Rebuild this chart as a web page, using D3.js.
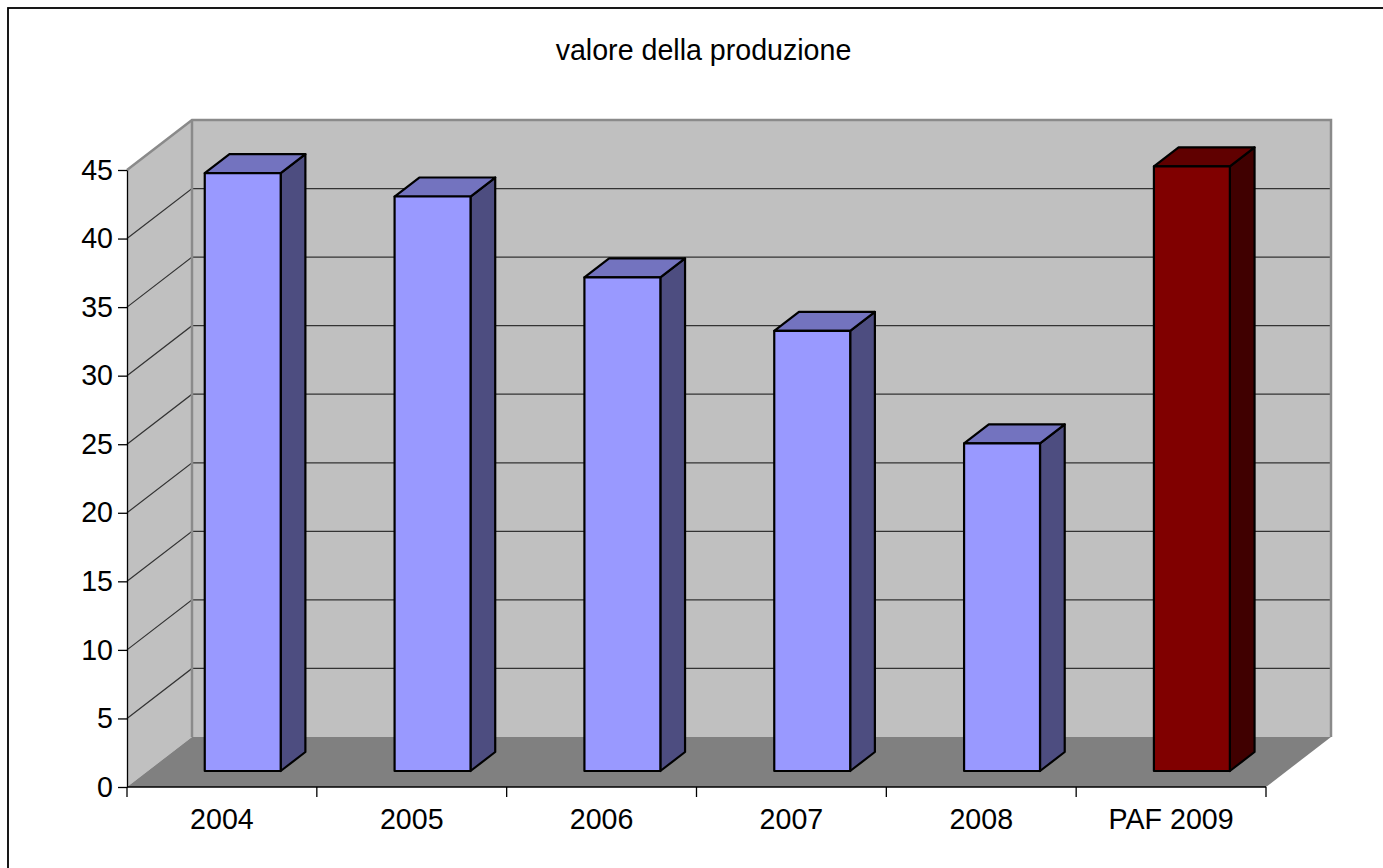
<!DOCTYPE html>
<html>
<head>
<meta charset="utf-8">
<script src="https://cdn.jsdelivr.net/npm/d3@7"></script>
<style>
html,body{margin:0;padding:0;background:#fff;}
svg{display:block;}
text{font-family:"Liberation Sans",Arial,sans-serif;fill:#000;}
</style>
</head>
<body>
<svg id="chart" width="1383" height="868"></svg>
<script>
const title = "valore della produzione";
const categories = ["2004", "2005", "2006", "2007", "2008", "PAF 2009"];
const values = [43.6, 41.9, 36.0, 32.1, 23.9, 44.1];
const highlight = [false, false, false, false, false, true];
const yTicks = [0, 5, 10, 15, 20, 25, 30, 35, 40, 45];

const svg = d3.select("#chart");
const W = 1383, H = 868;
const FS = 28.6;

// frame
svg.append("rect").attr("x", 8).attr("y", 8).attr("width", W).attr("height", H)
  .attr("fill", "#fff").attr("stroke", "#000").attr("stroke-width", 1.8);

const x0 = 127, x1 = 1266;
const x = d3.scaleBand().domain(categories).range([x0, x1]);
const y = d3.scaleLinear().domain([0, 45]).range([787, 170]);
const DX = 65, DY = -50;
const P = (px, v, z) => [px + DX * z, y(v) + DY * z];
const poly = pts => pts.map(p => p.join(",")).join(" ");

const yMin = 0, yMax = 45;

// left side wall
svg.append("polygon")
  .attr("points", poly([P(x0, yMin, 0), P(x0, yMax, 0), P(x0, yMax, 1), P(x0, yMin, 1)]))
  .attr("fill", "#c0c0c0");
// back wall
svg.append("polygon")
  .attr("points", poly([P(x0, yMin, 1), P(x0, yMax, 1), P(x1, yMax, 1), P(x1, yMin, 1)]))
  .attr("fill", "#c0c0c0");
// floor
svg.append("polygon")
  .attr("points", poly([P(x0, yMin, 0), P(x0, yMin, 1), P(x1, yMin, 1), P(x1, yMin, 0)]))
  .attr("fill", "#808080");

// gridlines
const gridVals = yTicks.filter(v => v > 0 && v < 45);
svg.append("g").selectAll("polyline").data(gridVals).join("polyline")
  .attr("points", v => poly([P(x0, v, 0), P(x0, v, 1), P(x1, v, 1)]))
  .attr("fill", "none").attr("stroke", "#333").attr("stroke-width", 1.2);

// wall edges
svg.append("polyline")
  .attr("points", poly([P(x0, yMax, 0), P(x0, yMax, 1), P(x1, yMax, 1), P(x1, yMin, 1)]))
  .attr("fill", "none").attr("stroke", "#8a8a8a").attr("stroke-width", 2.5);
svg.append("line")
  .attr("x1", P(x0, yMax, 1)[0]).attr("y1", P(x0, yMax, 1)[1])
  .attr("x2", P(x0, yMin, 1)[0]).attr("y2", P(x0, yMin, 1)[1])
  .attr("stroke", "#8a8a8a").attr("stroke-width", 2.5);

// bars
const zf = 0.32, zb = 0.70;
const bw = x.bandwidth();
const bars = svg.append("g").selectAll("g").data(categories.map((c, i) => ({c, v: values[i], hi: highlight[i]}))).join("g");
bars.each(function(d) {
  const g = d3.select(this);
  const l = x(d.c) + bw * 0.3, r = x(d.c) + bw * 0.7;
  const col = d.hi ? {front: "#800000", top: "#600000", side: "#400000"}
                   : {front: "#9999ff", top: "#7373bf", side: "#4d4d80"};
  const st = {stroke: "#000", w: 2.2};
  g.append("polygon")
    .attr("points", poly([P(r, 0, zf), P(r, d.v, zf), P(r, d.v, zb), P(r, 0, zb)]))
    .attr("fill", col.side).attr("stroke", st.stroke).attr("stroke-width", st.w).attr("stroke-linejoin", "round");
  g.append("polygon")
    .attr("points", poly([P(l, d.v, zf), P(l, d.v, zb), P(r, d.v, zb), P(r, d.v, zf)]))
    .attr("fill", col.top).attr("stroke", st.stroke).attr("stroke-width", st.w).attr("stroke-linejoin", "round");
  g.append("polygon")
    .attr("points", poly([P(l, 0, zf), P(l, d.v, zf), P(r, d.v, zf), P(r, 0, zf)]))
    .attr("fill", col.front).attr("stroke", st.stroke).attr("stroke-width", st.w).attr("stroke-linejoin", "round");
});

// y axis
const yAxis = d3.axisLeft(y).tickValues(yTicks).tickSize(9).tickSizeOuter(0).tickPadding(5);
const yg = svg.append("g").attr("transform", `translate(${x0},0)`).call(yAxis);
yg.selectAll("path,line").attr("stroke", "#000").attr("stroke-width", 1.3);
yg.selectAll("text").attr("font-size", FS).attr("font-family", '"Liberation Sans", Arial, sans-serif').attr("fill", "#000");

// x axis
svg.append("line").attr("x1", x0).attr("x2", x1).attr("y1", y(0)).attr("y2", y(0))
  .attr("stroke", "#000").attr("stroke-width", 1.3);
const bounds = categories.map(c => x(c)).concat([x1]);
svg.append("g").selectAll("line").data(bounds).join("line")
  .attr("x1", d => d).attr("x2", d => d).attr("y1", y(0)).attr("y2", y(0) + 10)
  .attr("stroke", "#000").attr("stroke-width", 1.3);
svg.append("g").selectAll("text").data(categories).join("text")
  .attr("x", c => x(c) + bw / 2).attr("y", 828.5)
  .attr("text-anchor", "middle").attr("font-size", FS).text(c => c);

// title
svg.append("text").attr("x", 703.5).attr("y", 59.5).attr("text-anchor", "middle")
  .attr("font-size", FS).text(title);
</script>
</body>
</html>
